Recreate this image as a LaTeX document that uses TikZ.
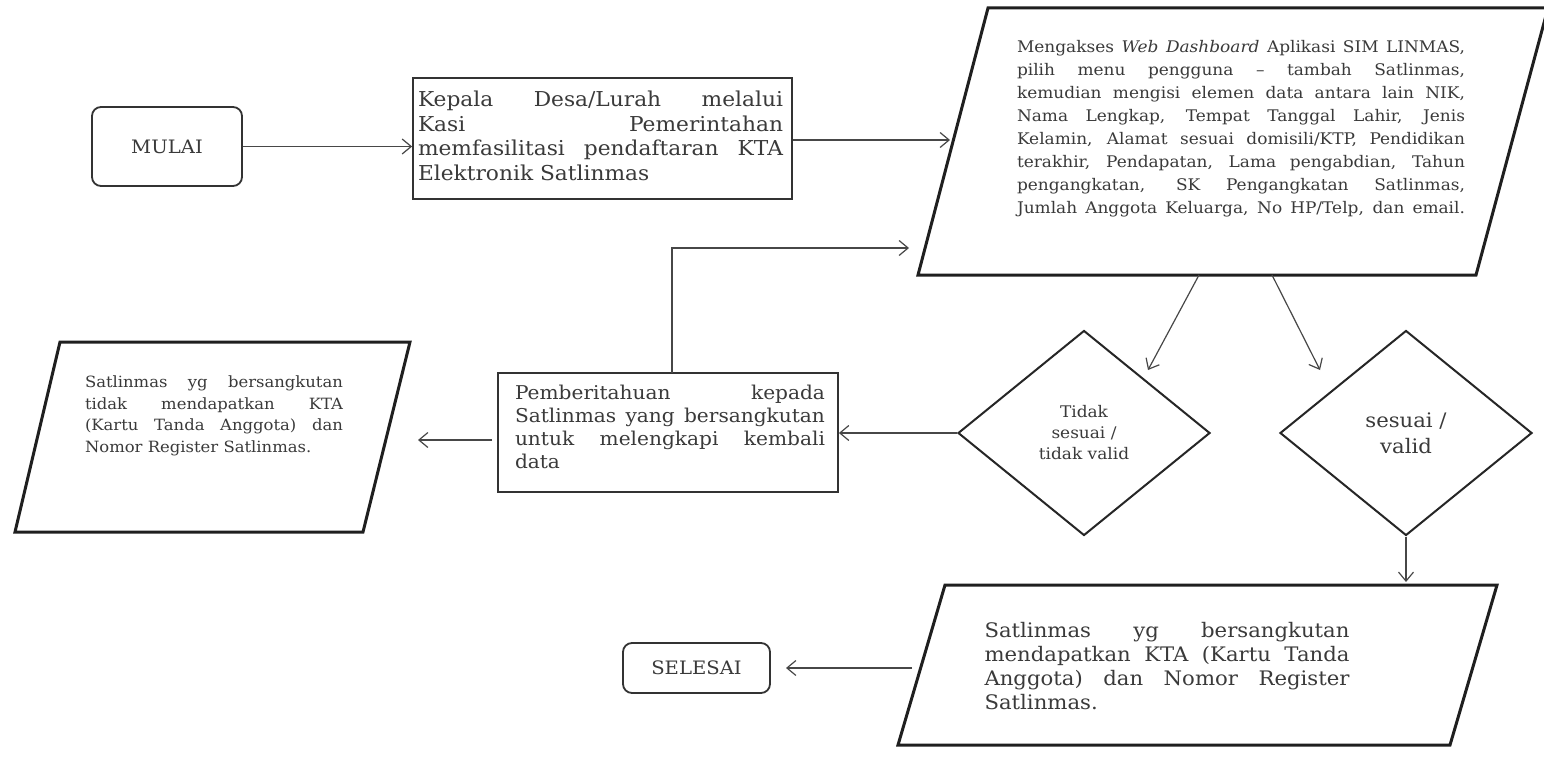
\documentclass[tikz,border=0pt]{standalone}
\usepackage{fontspec}
\setmainfont{DejaVu Serif}[FakeStretch=1.06]
\usetikzlibrary{arrows.meta,shapes.geometric}
\definecolor{ink}{HTML}{333333}
\definecolor{txt}{HTML}{3A3A3A}
\newcommand{\jl}[2]{\makebox[#1][s]{#2}}
\begin{document}
\begin{tikzpicture}[x=1pt,y=-1pt,
  box/.style={draw=ink, line width=1.8pt, inner sep=0pt},
  term/.style={draw=ink, line width=1.8pt, rounded corners=9pt, inner sep=0pt, text=txt, font=\fontsize{18.5}{22}\selectfont},
  para/.style={draw=black!88, line width=3pt, line join=miter},
  dia/.style={diamond, draw=black!85, line width=2pt, inner sep=0pt, text=txt, align=center},
  conn/.style={draw=ink!90, line width=1.2pt, -{Straight Barb[length=9pt,width=15pt,line width=1.2pt]}},
  lbl/.style={text=txt, inner sep=0pt, align=left},
]
\useasboundingbox (0,0) rectangle (1544,760);
\fill[white] (0,0) rectangle (1544,760);

% start / end terminals
\node[term, minimum width=150pt, minimum height=79pt] (mulai) at (167,146.5) {MULAI};
\node[term, minimum width=147pt, minimum height=50pt] (selesai) at (696.5,668) {SELESAI};

% box 1
\node[box, minimum width=379pt, minimum height=121pt] (b1) at (602.5,138.5) {};
\node[lbl, font=\fontsize{20.5}{24.5}\selectfont] (b1t) at (600.5,136) {%
\jl{365pt}{Kepala Desa/Lurah melalui}\\
\jl{365pt}{Kasi Pemerintahan}\\
\jl{365pt}{memfasilitasi pendaftaran KTA}\\
Elektronik Satlinmas};

% big input parallelogram
\draw[para] (988,8) -- (1548,8) -- (1476,275) -- (918,275) -- cycle;
\coordinate (p1in) at (950,140);
\coordinate (p1loop) at (909,248);
\coordinate (p1outA) at (1199,275);
\coordinate (p1outB) at (1272,275);
\node[lbl, font=\fontsize{16}{23}\selectfont] (p1t) at (1241,129) {%
\jl{448pt}{Mengakses \textit{Web Dashboard} Aplikasi SIM LINMAS,}\\
\jl{448pt}{pilih menu pengguna – tambah Satlinmas,}\\
\jl{448pt}{kemudian mengisi elemen data antara lain NIK,}\\
\jl{448pt}{Nama Lengkap, Tempat Tanggal Lahir, Jenis}\\
\jl{448pt}{Kelamin, Alamat sesuai domisili/KTP, Pendidikan}\\
\jl{448pt}{terakhir, Pendapatan, Lama pengabdian, Tahun}\\
\jl{448pt}{pengangkatan, SK Pengangkatan Satlinmas,}\\
\jl{448pt}{Jumlah Anggota Keluarga, No HP/Telp, dan email.}};

% decisions
\node[dia, minimum width=252pt, minimum height=205pt, font=\fontsize{16}{21}\selectfont] (d1) at (1084,433) {Tidak\\sesuai /\\tidak valid};
\node[dia, minimum width=252pt, minimum height=205pt, font=\fontsize{20}{26}\selectfont] (d2) at (1406,433) {sesuai /\\valid};
\coordinate (d1in) at (1148,370);
\coordinate (d2in) at (1320,370);

% notification box
\node[box, minimum width=340pt, minimum height=119pt] (pb) at (668,432.5) {};
\node[lbl, font=\fontsize{19}{23}\selectfont] (pbt) at (670,427) {%
\jl{310pt}{Pemberitahuan kepada}\\
\jl{310pt}{Satlinmas yang bersangkutan}\\
\jl{310pt}{untuk melengkapi kembali}\\
data};
\coordinate (pbtop) at (672,373);
\coordinate (pbleft) at (492,440);

% left output parallelogram
\draw[para] (60,342) -- (410,342) -- (363,532) -- (15,532) -- cycle;
\coordinate (p2in) at (418,440);
\node[lbl, font=\fontsize{15.5}{21.5}\selectfont] (p2t) at (214,416) {%
\jl{258pt}{Satlinmas yg bersangkutan}\\
\jl{258pt}{tidak mendapatkan KTA}\\
\jl{258pt}{(Kartu Tanda Anggota) dan}\\
Nomor Register Satlinmas.};

% lower output parallelogram
\draw[para] (945,585) -- (1497,585) -- (1450,745) -- (898,745) -- cycle;
\coordinate (p3in) at (1406,582);
\coordinate (p3out) at (912,668);
\coordinate (selin) at (786,668);
\node[lbl, font=\fontsize{20}{24}\selectfont] (p3t) at (1167,666) {%
\jl{365pt}{Satlinmas yg bersangkutan}\\
\jl{365pt}{mendapatkan KTA (Kartu Tanda}\\
\jl{365pt}{Anggota) dan Nomor Register}\\
Satlinmas.};

% connectors
\draw[conn] (mulai.east) -- (b1.west |- mulai.east);
\draw[conn] (b1.east |- p1in) -- (p1in);
\draw[conn] (p1outA) -- (d1in);
\draw[conn] (p1outB) -- (d2in);
\draw[conn] (d2.south) -- (p3in);
\draw[conn] (p3out) -- (selin);
\draw[conn] (d1.west) -- (pb.east |- d1.west);
\draw[conn] (pbleft) -- (p2in);
\draw[conn] (pbtop) -- (pbtop |- p1loop) -- (p1loop);
\end{tikzpicture}
\end{document}
